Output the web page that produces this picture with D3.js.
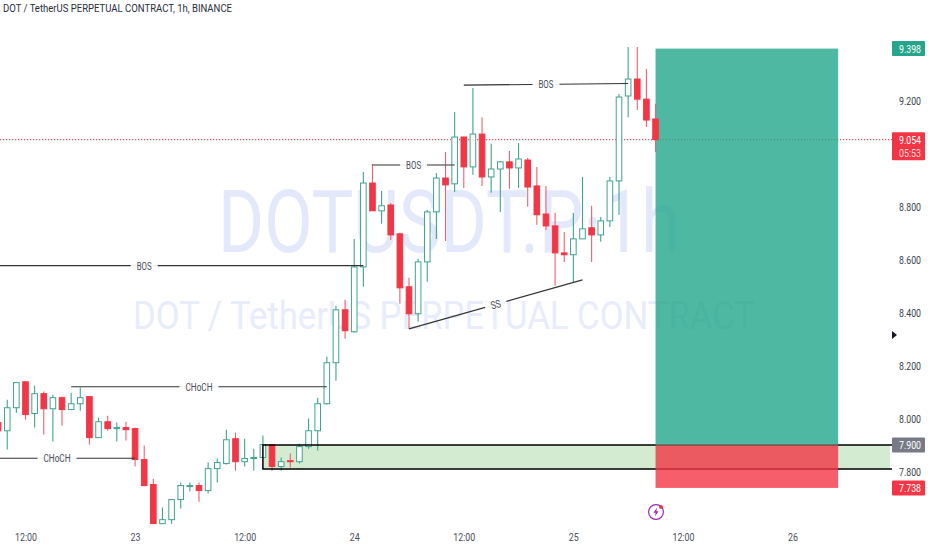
<!DOCTYPE html>
<html><head><meta charset="utf-8">
<script src="https://cdn.jsdelivr.net/npm/d3@7"></script>
<style>
html,body{margin:0;padding:0;background:#fff}
svg{display:block}
text{font-family:Roboto,"Liberation Sans",sans-serif}
</style></head><body><div id="c"></div>
<script>
const startHour=-3;
const opens=[7.985,7.954,8.041,8.139,8.019,8.094,8.037,8.079,8.034,8.056,8.083,7.928,7.988,7.962,7.966,7.962,7.845,7.751,7.603,7.618,7.694,7.743,7.747,7.728,7.811,7.830,7.924,7.837,7.849,7.853,7.902,7.819,7.841,7.837,7.894,7.954,8.056,8.211,8.411,8.328,8.573,8.890,8.785,8.807,8.698,8.498,8.396,8.592,8.781,8.909,8.887,9.064,8.951,9.075,8.913,8.943,8.970,8.947,8.977,8.879,8.773,8.728,8.626,8.619,8.679,8.721,8.694,8.747,8.898,9.219,9.283,9.207,9.132];
const highs=[7.996,8.071,8.136,8.139,8.124,8.102,8.090,8.083,8.098,8.117,8.083,8.003,8.011,7.985,7.988,7.966,7.898,7.773,7.664,7.694,7.758,7.758,7.758,7.834,7.849,7.958,7.947,7.924,7.886,7.936,7.902,7.853,7.868,7.905,8.000,8.079,8.234,8.426,8.449,8.679,8.932,8.962,8.860,8.815,8.702,8.532,8.604,8.788,8.928,9.007,9.158,9.064,9.249,9.139,9.038,8.973,9.011,9.041,8.985,8.951,8.879,8.777,8.705,8.777,8.913,8.804,8.762,8.913,9.226,9.404,9.404,9.321,9.189];
const lows=[7.939,7.883,8.022,7.996,7.966,7.939,7.913,7.973,8.034,8.030,7.902,7.928,7.954,7.913,7.917,7.819,7.743,7.603,7.603,7.603,7.660,7.724,7.686,7.717,7.758,7.826,7.803,7.819,7.803,7.853,7.803,7.803,7.815,7.830,7.886,7.879,8.053,8.143,8.302,8.324,8.498,8.785,8.736,8.675,8.434,8.339,8.366,8.517,8.679,8.671,8.856,8.871,8.921,8.879,8.853,8.781,8.868,8.871,8.800,8.732,8.713,8.502,8.592,8.513,8.679,8.592,8.668,8.724,8.770,9.139,9.166,9.102,9.007];
const closes=[7.954,8.041,8.136,8.015,8.094,8.037,8.079,8.034,8.056,8.079,7.928,7.988,7.962,7.966,7.958,7.845,7.747,7.603,7.618,7.694,7.747,7.747,7.728,7.811,7.834,7.920,7.837,7.849,7.853,7.902,7.819,7.837,7.837,7.894,7.954,8.056,8.211,8.411,8.332,8.573,8.890,8.785,8.804,8.694,8.494,8.396,8.592,8.781,8.909,8.883,9.064,8.951,9.075,8.913,8.943,8.970,8.947,8.981,8.875,8.770,8.728,8.626,8.619,8.679,8.717,8.694,8.747,8.898,9.215,9.283,9.207,9.128,9.054];

const priceTicks=[8.0,8.2,8.4,8.6,8.8,9.2];
const plainAxisExtra=[7.8];
const timeTickHours=[0,12,24,36,48,60,72,84];
const timeTickLabels=["12:00","23","12:00","24","12:00","25","12:00","26"];

const lastPrice=9.054, countdown="05:53";
const takeProfit=9.398, entry=7.900, stop=7.738, zoneLow=7.809;
const zoneStartHour=26, posStartHour=69, posEndHour=89;

const segLabels=["BOS","BOS","BOS","CHoCH","CHoCH"];
const segX0=[-3,38,48,5,-3];
const segX1=[37,47,66,33,12];
const segP0=[8.578,8.958,9.260,8.120,7.850];
const segP1=[8.578,8.958,9.266,8.120,7.850];
const segLabelX=[13,42.5,57,19,3.45];
const segLabelW=[15,15,15,27,27];
const ssX=[42,61], ssP=[8.339,8.524];
const ssLabel="SS";

const W=932,H=550;
const x=d3.scaleLinear().domain([0,84]).range([25.5,792.5]);
const y=d3.scaleLinear().domain([7.8,9.2]).range([471.5,101]);
const up="#3fa48f", down="#f23645";

const svg=d3.select("#c").append("svg").attr("width",W).attr("height",H);

// watermarks
svg.append("text").attr("x",218).attr("y",252).attr("font-size",88).attr("fill","#e3e8fb")
  .attr("textLength",462).attr("lengthAdjust","spacingAndGlyphs").text("DOTUSDT.P·1h");
svg.append("text").attr("x",133).attr("y",329).attr("font-size",38).attr("fill","#e8ecfb")
  .attr("textLength",622).attr("lengthAdjust","spacingAndGlyphs").text("DOT / TetherUS PERPETUAL CONTRACT");

// zone
svg.append("rect").attr("x",x(zoneStartHour)).attr("y",y(entry))
  .attr("width",890-x(zoneStartHour)).attr("height",y(zoneLow)-y(entry)).attr("fill","#d3ebd0");

// last-price line
svg.append("line").attr("x1",0).attr("x2",892).attr("y1",y(lastPrice)).attr("y2",y(lastPrice))
  .attr("stroke","#f2505e").attr("stroke-width",1.2).attr("stroke-dasharray","1.2 1.8");

// candles
const candles=opens.map((o,i)=>({h:startHour+i,o,hi:highs[i],lo:lows[i],c:closes[i]}));
function drawCandles(data){
  const g=svg.append("g").selectAll("g").data(data).join("g");
  g.append("line").attr("x1",d=>x(d.h)).attr("x2",d=>x(d.h))
    .attr("y1",d=>y(d.hi)).attr("y2",d=>y(d.lo))
    .attr("stroke",d=>d.c>=d.o?up:"#f0606e").attr("stroke-width",1.1);
  g.append("rect").attr("x",d=>x(d.h)-2.8).attr("width",5.6)
    .attr("y",d=>y(Math.max(d.o,d.c))).attr("height",d=>Math.max(0.6,Math.abs(y(d.o)-y(d.c))))
    .attr("fill",d=>d.c>=d.o?"#fff":down)
    .attr("stroke",d=>d.c>=d.o?up:down).attr("stroke-width",1);
}
drawCandles(candles.slice(0,-1));

// segment annotations
function label(t,w,tr){
  svg.append("rect").attr("x",-(w+12)/2).attr("y",-5).attr("width",w+12).attr("height",10).attr("fill","#fff")
    .attr("opacity",.92).attr("transform",tr);
  svg.append("text").attr("x",-w/2).attr("y",4).attr("font-size",11).attr("fill","#4a4e5a")
    .attr("textLength",w).attr("lengthAdjust","spacingAndGlyphs").attr("transform",tr).text(t);
}
segLabels.forEach((t,i)=>{
  const x0=segX0[i]<0?0:x(segX0[i]),x1=x(segX1[i]);
  svg.append("line").attr("x1",x0).attr("x2",x1).attr("y1",y(segP0[i])).attr("y2",y(segP1[i]))
    .attr("stroke","#333").attr("stroke-width",1.1);
  const mx=x(segLabelX[i]),my=(y(segP0[i])+y(segP1[i]))/2;
  label(t,segLabelW[i],`translate(${mx},${my})`);
});
// SS line
{
  const x0=x(ssX[0]),x1=x(ssX[1]),y0=y(ssP[0]),y1=y(ssP[1]);
  svg.append("line").attr("x1",x0).attr("x2",x1).attr("y1",y0).attr("y2",y1)
    .attr("stroke","#333").attr("stroke-width",1.1);
  const ang=Math.atan2(y1-y0,x1-x0)*180/Math.PI;
  label(ssLabel,10,`translate(${(x0+x1)/2},${(y0+y1)/2}) rotate(${ang})`);
}

// zone borders
const zx=x(zoneStartHour);
svg.append("path").attr("d",`M892,${y(entry)}H${zx}V${y(zoneLow)}H892`).attr("fill","none")
  .attr("stroke","#000").attr("stroke-width",1.5);

// long position
svg.append("rect").attr("x",x(posStartHour)).attr("width",x(posEndHour)-x(posStartHour))
  .attr("y",y(takeProfit)).attr("height",y(entry)-y(takeProfit)).attr("fill","#22a68b").attr("opacity",.8);
svg.append("rect").attr("x",x(posStartHour)).attr("width",x(posEndHour)-x(posStartHour))
  .attr("y",y(entry)).attr("height",y(stop)-y(entry)).attr("fill","#f23645").attr("opacity",.8);
drawCandles(candles.slice(-1));

// header
svg.append("text").attr("x",3).attr("y",12).attr("font-size",11.5).attr("fill","#2a2e39")
  .attr("textLength",229).attr("lengthAdjust","spacingAndGlyphs")
  .text("DOT / TetherUS PERPETUAL CONTRACT, 1h, BINANCE");

// axes
const xAxis=d3.axisBottom(x).tickValues(timeTickHours)
  .tickFormat((d,i)=>timeTickLabels[i]).tickSize(0);
const xa=svg.append("g").attr("transform","translate(0,530)").call(xAxis);
xa.select(".domain").remove();
xa.selectAll("text").attr("font-size",11).attr("fill","#4a4e5a").attr("font-family","Roboto")
  .attr("textLength",d=>d%24===0?22:10).attr("lengthAdjust","spacingAndGlyphs");
const yAxis=d3.axisRight(y).tickValues(priceTicks.concat(plainAxisExtra)).tickFormat(d3.format(".3f")).tickSize(0);
const ya=svg.append("g").attr("transform","translate(899,0)").call(yAxis);
ya.select(".domain").remove();
ya.selectAll("text").attr("x",0).attr("font-size",11.5).attr("fill","#3a3e4a").attr("font-family","Roboto")
  .attr("textLength",22).attr("lengthAdjust","spacingAndGlyphs");

function tag(p,t,fill,h=15,extra){
  const cy=y(p);
  svg.append("rect").attr("x",892).attr("width",33).attr("y",cy-7.5).attr("height",h).attr("fill",fill).attr("rx",1);
  svg.append("text").attr("x",899).attr("y",cy+4).attr("font-size",11.5).attr("fill","#fff")
    .attr("textLength",22).attr("lengthAdjust","spacingAndGlyphs").text(t);
  if(extra) svg.append("text").attr("x",899).attr("y",cy+17).attr("font-size",11.5).attr("fill","#ffd5d8")
    .attr("textLength",22).attr("lengthAdjust","spacingAndGlyphs").text(extra);
}
tag(takeProfit,takeProfit.toFixed(3),"#26a58d");
tag(lastPrice,lastPrice.toFixed(3),"#f23645",28,countdown);
tag(entry,entry.toFixed(3),"#787b86");
tag(stop,stop.toFixed(3),"#f23645");

// arrow marker
svg.append("path").attr("d",d3.line()([[892,331],[897,335],[892,339]])).attr("fill","#131722");

// lightning icon
const ic=svg.append("g").attr("transform","translate(656,512)");
ic.append("circle").attr("r",7.4).attr("fill","none").attr("stroke","#9c27b0").attr("stroke-width",1.2);
ic.append("path").attr("d","M1,-4.5L-2.5,0.8H-0.3L-1,4.5L2.5,-0.8H0.3Z").attr("fill","#9c27b0");
ic.append("circle").attr("cx",5).attr("cy",-5).attr("r",2).attr("fill","#f23645");
</script></body></html>
